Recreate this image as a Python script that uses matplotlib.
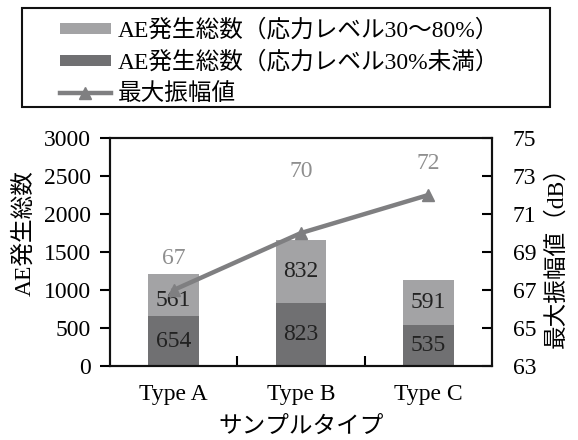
import matplotlib
matplotlib.use("Agg")
import matplotlib.pyplot as plt
from matplotlib.ticker import FixedLocator
from matplotlib.patches import Rectangle
import numpy as np

plt.rcParams['font.family'] = ['Liberation Serif', 'Noto Sans CJK JP']

categories = ["Type A", "Type B", "Type C"]
low_stress = [654, 823, 535]      # 応力レベル30%未満
mid_stress = [561, 832, 591]      # 応力レベル30～80%
max_amplitude = [67, 70, 72]      # 最大振幅値 (dB)

label_mid = "AE発生総数（応力レベル30～80%）"
label_low = "AE発生総数（応力レベル30%未満）"
label_amp = "最大振幅値"

c_light = "#a3a3a5"
c_dark = "#707072"
c_line = "#7f7f81"
c_vlabel = "#8f8f8f"
fs = 17

W, H = 578, 440
fig = plt.figure(figsize=(W / 100, H / 100), dpi=100)
ax = fig.add_axes([110 / W, 1 - 366 / H, 382 / W, 228 / H])
x = np.arange(len(categories))
w = 0.40

b_low = ax.bar(x, low_stress, w, color=c_dark, label=label_low, zorder=2)
b_mid = ax.bar(x, mid_stress, w, bottom=low_stress, color=c_light, label=label_mid, zorder=2)
ax.bar_label(b_low, labels=[str(v) for v in low_stress], label_type='center',
             fontsize=fs, color="#222222")
mid_texts = ax.bar_label(b_mid, labels=[str(v) for v in mid_stress], label_type='center',
                         fontsize=fs, color="#222222")
# nudge the first upper label down, clear of the line marker
mid_texts[0].xyann = (0, -4)

ax.set_xlim(-0.5, 2.5)
ax.set_ylim(0, 3000)
ax.set_yticks(np.arange(0, 3001, 500))
ax.set_xticks(x)
ax.set_xticklabels(categories, fontsize=fs)
ax.xaxis.set_minor_locator(FixedLocator([0.5, 1.5]))
ax.tick_params(axis='x', which='major', length=0, pad=13)
ax.tick_params(axis='x', which='minor', direction='in', length=7, width=1.5)
ax.tick_params(axis='y', direction='out', length=7, width=1.5, labelsize=fs, pad=7)
ax.set_ylabel("AE発生総数", fontsize=fs)
ax.yaxis.set_label_coords(-0.195, 0.585)
ax.set_xlabel("サンプルタイプ", fontsize=fs, labelpad=8)
for s in ax.spines.values():
    s.set_linewidth(1.5)
    s.set_color("#111111")

ax2 = ax.twinx()
ln, = ax2.plot(x, max_amplitude, color=c_line, lw=3.2, marker='^', markersize=9,
               label=label_amp, zorder=3)
ax2.set_ylim(63, 75)
ax2.set_yticks(np.arange(63, 76, 2))
ax2.tick_params(axis='y', direction='in', length=7, width=1.5, labelsize=fs, pad=15)
ax2.set_ylabel("最大振幅値（dB）", fontsize=fs)
ax2.yaxis.set_label_coords(1.14, 0.5)
for s in ax2.spines.values():
    s.set_linewidth(1.5)
    s.set_color("#111111")

offsets = [(0, 23), (0, 44), (0, 23)]
for xi, v, off in zip(x, max_amplitude, offsets):
    ax2.annotate(str(v), (xi, v), xytext=off, textcoords='offset points',
                 ha='center', va='center', fontsize=fs, color=c_vlabel)

# legend frame drawn separately so the entries sit indented inside it
fig.patches.append(Rectangle((22 / W, 1 - 107 / H), 528 / W, 99 / H,
                             transform=fig.transFigure, fill=False,
                             edgecolor="#111111", linewidth=1.5))
handles = [b_mid, b_low, ln]
leg = fig.legend(handles, [label_mid, label_low, label_amp],
                 loc='upper left', bbox_to_anchor=(60 / W, 1 - 19 / H),
                 fontsize=fs, frameon=False, handlelength=2.15,
                 handleheight=0.35, handletextpad=0.3, borderpad=0,
                 labelspacing=0.4, borderaxespad=0)

fig.savefig("out.png", dpi=100)
